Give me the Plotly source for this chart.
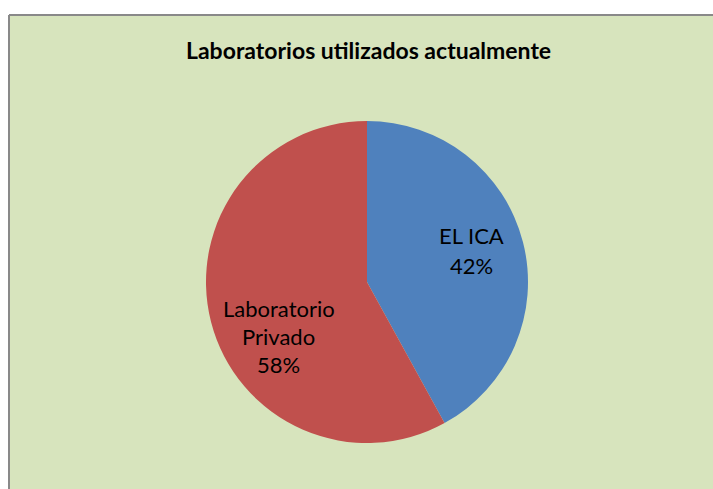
import plotly.graph_objects as go

labels = ["EL ICA", "Laboratorio<br>Privado"]
values = [42, 58]
colors = ["#4F81BD", "#C0504D"]
title_text = "Laboratorios utilizados actualmente"

W, H = 713, 489
ML, MT = 9, 15
pw, ph = W - ML, H - MT


def fx(px):
    return (px - ML) / pw


def fy(py):
    return 1 - (py - MT) / ph


cx, cy, r = 367, 282, 161

fig = go.Figure(go.Pie(
    labels=labels,
    values=values,
    marker=dict(colors=colors, line=dict(width=0)),
    sort=False,
    direction="clockwise",
    rotation=0,
    textinfo="none",
    hoverinfo="skip",
    domain=dict(x=[fx(cx - r), fx(cx + r)], y=[fy(cy + r), fy(cy - r)]),
    showlegend=False,
))

total = sum(values)
# label anchor positions (px): center x and baselines
label_pos = [(471.5, [243, 272]), (278.5, [315, 343, 371])]
annotations = [dict(text="<b>" + title_text + "</b>", xref="paper", yref="paper",
                    x=fx(368.5), y=fy(50), xanchor="center", yanchor="middle",
                    showarrow=False, font=dict(family="Lato", size=23, color="black"))]
for lab, val, (px, bases) in zip(labels, values, label_pos):
    lines = lab.split("<br>") + [f"{round(100 * val / total)}%"]
    for line, b in zip(lines, bases):
        annotations.append(dict(text=line, xref="paper", yref="paper",
                                x=fx(px), y=fy(b - 7), xanchor="center", yanchor="middle",
                                showarrow=False, font=dict(family="Lato", size=22, color="black")))

fig.update_layout(
    width=W, height=H,
    margin=dict(l=ML, r=0, t=MT, b=0),
    paper_bgcolor="white",
    showlegend=False,
    shapes=[
        dict(type="rect", xref="paper", yref="paper",
             x0=0, x1=1, y0=0, y1=1,
             fillcolor="#D7E4BD", line=dict(width=0), layer="below"),
        dict(type="line", xref="paper", yref="paper", x0=0, x1=0, y0=0, y1=1,
             line=dict(color="#898989", width=2), layer="below"),
        dict(type="line", xref="paper", yref="paper", x0=0, x1=1, y0=1, y1=1,
             line=dict(color="#898989", width=2), layer="below"),
    ],
    annotations=annotations,
)

fig.write_html("out.html",
               config={"displayModeBar": False},
               post_script="document.body.style.margin='0';document.body.style.overflow='hidden';")
